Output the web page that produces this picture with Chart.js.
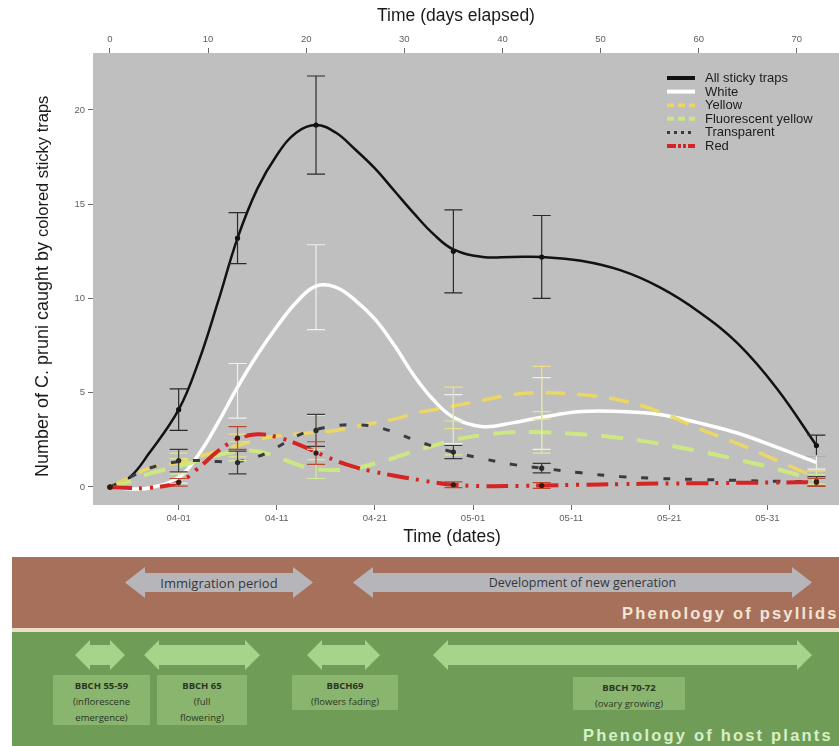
<!DOCTYPE html>
<html>
<head>
<meta charset="utf-8">
<script src="https://cdn.jsdelivr.net/npm/chart.js@4"></script>
<style>
  html, body { margin: 0; padding: 0; background: #fff; }
  #wrap { position: relative; width: 839px; height: 746px; overflow: hidden;
          font-family: "Liberation Sans", Arial, sans-serif; }
  #plot { position: absolute; left: 0; top: 0; }
  .band { position: absolute; left: 12px; right: 0; }
  #psy  { top: 557px; height: 71px; background: #a6705b; }
  #sep  { top: 628px; height: 4px; background: #eedcc6; }
  #host { top: 632px; height: 114px; background: #6f9d57; }
  .arrow { position: absolute;
           clip-path: polygon(0 50%, var(--h) 0, var(--h) var(--s), calc(100% - var(--h)) var(--s),
                              calc(100% - var(--h)) 0, 100% 50%, calc(100% - var(--h)) 100%,
                              calc(100% - var(--h)) calc(100% - var(--s)), var(--h) calc(100% - var(--s)), var(--h) 100%); }
  .grey  { background: #b6b6ba; --h: 20px; --s: 6px; }
  .green { background: #a6d48a; --h: 15px; --s: 5px; }
  .atext { position: absolute; display: flex; align-items: center; justify-content: center;
           font-family: "Open Sans", sans-serif; color: #36363a; white-space: nowrap; }
  .stage { position: absolute; background: rgba(160,200,130,0.55); color: #2a3623;
           font-family: "Open Sans", sans-serif; font-size: 9.5px; line-height: 16px;
           text-align: center; padding-top: 3px; box-sizing: border-box; }
  .stage b { font-weight: 700; }
  .phen { position: absolute; font-family: "Liberation Sans", Arial, sans-serif; font-weight: 700;
          font-size: 16.5px; line-height: 18px; letter-spacing: 2.2px; white-space: nowrap; }
</style>
</head>
<body>
<div id="wrap">
  <canvas id="plot" width="839" height="550"></canvas>

  <div class="band" id="psy"></div>
  <div class="band" id="sep"></div>
  <div class="band" id="host"></div>

  <div class="arrow grey" style="left:125px;top:567px;width:188px;height:31px;"></div>
  <div class="atext" style="left:125px;top:567px;width:188px;height:31px;font-size:13px;">Immigration period</div>
  <div class="arrow grey" style="left:353px;top:567px;width:459px;height:31px;"></div>
  <div class="atext" style="left:353px;top:567px;width:459px;height:31px;font-size:12.5px;">Development of new generation</div>
  <div class="phen" style="left:622px;top:604px;color:#f4e4d6;">Phenology of psyllids</div>

  <div class="arrow green" style="left:75px;top:640px;width:50px;height:30px;"></div>
  <div class="arrow green" style="left:144px;top:640px;width:116px;height:30px;"></div>
  <div class="arrow green" style="left:307px;top:640px;width:73px;height:30px;"></div>
  <div class="arrow green" style="left:433px;top:640px;width:379px;height:30px;"></div>

  <div class="stage" style="left:53px;top:675px;width:97px;height:50px;"><b>BBCH 55-59</b><br>(inflorescene<br>emergence)</div>
  <div class="stage" style="left:157px;top:675px;width:90px;height:50px;"><b>BBCH 65</b><br>(full<br>flowering)</div>
  <div class="stage" style="left:292px;top:675px;width:106px;height:35px;"><b>BBCH69</b><br>(flowers fading)</div>
  <div class="stage" style="left:573px;top:677px;width:112px;height:33px;"><b>BBCH 70-72</b><br>(ovary growing)</div>
  <div class="phen" style="left:583px;top:726px;color:#d8efc6;">Phenology of host plants</div>
</div>

<script>
// Fitted trend lines (number of C. pruni per trap), read at these days
const curveDays   = [0, 2, 4, 7, 9, 11, 13, 15, 17, 19, 21, 23, 25, 27, 29, 31, 33, 35, 38, 41, 44, 48, 52, 56, 60, 64, 68, 72];
const allCurve    = [0, 0.5, 1.8, 4.1, 6.6, 9.8, 13.2, 15.8, 17.6, 18.8, 19.2, 18.8, 17.9, 16.9, 15.7, 14.5, 13.4, 12.6, 12.2, 12.2, 12.2, 12.0, 11.5, 10.6, 9.3, 7.6, 5.2, 2.2];
const whiteCurve  = [0, -0.1, -0.05, 0.5, 1.7, 3.4, 5.3, 7.0, 8.5, 9.8, 10.65, 10.6, 9.9, 8.9, 7.5, 5.9, 4.6, 3.7, 3.2, 3.4, 3.7, 4.0, 4.0, 3.85, 3.4, 2.85, 2.1, 1.3];
const yellowCurve = [0, 0.5, 1.0, 1.3, 1.6, 1.9, 2.2, 2.5, 2.7, 2.8, 2.9, 3.0, 3.2, 3.4, 3.6, 3.9, 4.1, 4.3, 4.6, 4.9, 5.0, 4.9, 4.6, 4.0, 3.1, 2.3, 1.4, 0.5];
const fluorCurve  = [0, 0.3, 0.7, 1.1, 1.4, 1.7, 1.9, 1.9, 1.6, 1.2, 0.95, 0.9, 1.0, 1.25, 1.55, 1.9, 2.2, 2.5, 2.75, 2.9, 2.9, 2.8, 2.6, 2.3, 1.9, 1.45, 0.95, 0.35];
const transCurve  = [0, 0.5, 1.0, 1.35, 1.4, 1.35, 1.35, 1.6, 2.1, 2.7, 3.05, 3.25, 3.3, 3.2, 2.9, 2.5, 2.15, 1.85, 1.5, 1.2, 1.0, 0.75, 0.55, 0.45, 0.4, 0.35, 0.3, 0.3];
const redCurve    = [0, -0.05, -0.05, 0.25, 1.0, 1.9, 2.55, 2.8, 2.65, 2.3, 1.85, 1.4, 1.05, 0.8, 0.6, 0.42, 0.25, 0.12, 0.05, 0.05, 0.08, 0.12, 0.15, 0.18, 0.2, 0.22, 0.24, 0.25];

// Trap counts on sampling days: mean and standard error
const sampleDays  = [0, 7, 13, 21, 35, 44, 72];
const allMean     = [0, 4.1, 13.2, 19.2, 12.5, 12.2, 2.2];
const allSE       = [0, 1.1, 1.35, 2.6, 2.2, 2.2, 0.55];
const whiteMean   = [0, 0.5, 5.1, 10.6, 3.6, 3.9, 1.3];
const whiteSE     = [0, 0.3, 1.45, 2.25, 1.3, 1.9, 0.35];
const yellowMean  = [0, 1.3, 2.2, 2.9, 4.2, 5.0, 0.5];
const yellowSE    = [0, 0.5, 0.6, 0.9, 1.1, 1.4, 0.35];
const fluorMean   = [0, 1.1, 1.9, 0.95, 2.6, 2.9, 0.35];
const fluorSE     = [0, 0.4, 0.5, 0.5, 0.9, 1.1, 0.3];
const transMean   = [0, 1.4, 1.3, 3.0, 1.85, 1.0, 0.3];
const transSE     = [0, 0.6, 0.6, 0.85, 0.35, 0.25, 0.25];
const redMean     = [0, 0.25, 2.6, 1.8, 0.12, 0.08, 0.25];
const redSE       = [0, 0.2, 0.6, 0.6, 0.15, 0.15, 0.2];

// Axis ticks
const dayTicks       = [0, 10, 20, 30, 40, 50, 60, 70];
const dateTickDays   = [7, 17, 27, 37, 47, 57, 67];
const dateTickLabels = ['04-01', '04-11', '04-21', '05-01', '05-11', '05-21', '05-31'];
const countTicks     = [0, 5, 10, 15, 20];

const FONT = '"Liberation Sans", Arial, sans-serif';
Chart.defaults.font.family = FONT;

function series(label, curve, mean, se, style) {
  return {
    label,
    data: curveDays.map((d, i) => ({ x: d, y: curve[i] })),
    borderColor: style.color,
    borderWidth: style.width,
    borderDash: style.dash || [],
    borderCapStyle: 'butt',
    pointRadius: 0,
    tension: 0.4,
    fill: false,
    order: style.order,
    errMean: mean, errSE: se, errColor: style.errColor, dotColor: style.dotColor,
    keyDash: style.keyDash || style.dash || [], keyWidth: style.keyWidth || style.width
  };
}

const datasets = [
  series('All sticky traps', allCurve, allMean, allSE,
    { color: '#121212', width: 2.5, order: 6, errColor: '#2a2a2a', dotColor: '#111', keyWidth: 4 }),
  series('White', whiteCurve, whiteMean, whiteSE,
    { color: '#ffffff', width: 3.5, order: 5, errColor: 'rgba(245,245,245,0.9)', keyWidth: 4 }),
  series('Yellow', yellowCurve, yellowMean, yellowSE,
    { color: 'rgba(236,216,96,0.95)', width: 3.5, dash: [20, 12], order: 4, errColor: 'rgba(240,226,130,0.95)', keyDash: [7, 4] }),
  series('Fluorescent yellow', fluorCurve, fluorMean, fluorSE,
    { color: 'rgba(206,234,128,0.95)', width: 4, dash: [22, 14], order: 3, errColor: 'rgba(214,238,150,0.95)', keyDash: [7, 4] }),
  series('Transparent', transCurve, transMean, transSE,
    { color: '#3a3a44', width: 3, dash: [7, 15], order: 2, errColor: '#3a3a3a', dotColor: '#2a2a2a', keyDash: [3, 4] }),
  series('Red', redCurve, redMean, redSE,
    { color: '#d42424', width: 4, dash: [22, 7, 3, 8, 3, 7], order: 1, errColor: '#b84a30', dotColor: '#3a1a10', keyDash: [9, 2, 3, 2, 3, 2] })
];

// Grey panel behind the data
const panel = {
  id: 'panel',
  beforeDraw(chart) {
    const { ctx, chartArea: a } = chart;
    ctx.save();
    ctx.fillStyle = '#bfbfbf';
    ctx.fillRect(a.left, a.top, a.right - a.left, a.bottom - a.top);
    ctx.restore();
  }
};

// Mean +/- SE bars on sampling days
const errorBars = {
  id: 'errorBars',
  afterDatasetsDraw(chart) {
    const { ctx, scales: { x, y } } = chart;
    ctx.save();
    chart.data.datasets.forEach(ds => {
      ctx.strokeStyle = ds.errColor;
      ctx.lineWidth = 1.2;
      sampleDays.forEach((d, i) => {
        const px = x.getPixelForValue(d);
        const m = ds.errMean[i], s = ds.errSE[i];
        if (s > 0) {
          const t = y.getPixelForValue(m + s), b = y.getPixelForValue(m - s);
          ctx.beginPath();
          ctx.moveTo(px, t); ctx.lineTo(px, b);
          ctx.moveTo(px - 9, t); ctx.lineTo(px + 9, t);
          ctx.moveTo(px - 9, b); ctx.lineTo(px + 9, b);
          ctx.stroke();
        }
        if (ds.dotColor) {
          ctx.fillStyle = ds.dotColor;
          ctx.beginPath();
          ctx.arc(px, y.getPixelForValue(m), 2.6, 0, Math.PI * 2);
          ctx.fill();
        }
      });
    });
    ctx.restore();
  }
};

// Legend inside the panel, top right
const keyLegend = {
  id: 'keyLegend',
  afterDraw(chart) {
    const { ctx, chartArea: a } = chart;
    const x0 = a.right - 172, y0 = a.top + 25, step = 13.6;
    ctx.save();
    ctx.font = '13px ' + FONT;
    ctx.textBaseline = 'middle';
    chart.data.datasets.forEach((ds, i) => {
      const yy = y0 + i * step;
      ctx.strokeStyle = ds.borderColor;
      ctx.lineWidth = ds.keyWidth;
      ctx.setLineDash(ds.keyDash);
      ctx.beginPath(); ctx.moveTo(x0, yy); ctx.lineTo(x0 + 28, yy); ctx.stroke();
      ctx.setLineDash([]);
      ctx.fillStyle = '#1c1c1c';
      ctx.fillText(ds.label, x0 + 38, yy + 0.5);
    });
    ctx.restore();
  }
};

// Axis titles
const axisTitles = {
  id: 'axisTitles',
  afterDraw(chart) {
    const { ctx } = chart;
    ctx.save();
    ctx.fillStyle = '#1a1a1a';
    ctx.textBaseline = 'middle';
    ctx.textAlign = 'center';
    ctx.font = '17.5px ' + FONT;
    ctx.fillText('Time (days elapsed)', 456, 16);
    ctx.fillText('Time (dates)', 452, 537);
    ctx.translate(43, 477);
    ctx.rotate(-Math.PI / 2);
    ctx.textAlign = 'left';
    const p1 = 'Number of C. pruni caught by ';
    ctx.font = '18px ' + FONT;
    ctx.fillText(p1, 0, 0);
    const w1 = ctx.measureText(p1).width;
    ctx.font = '16.5px ' + FONT;
    ctx.fillText('colored sticky traps', w1, 0);
    ctx.restore();
  }
};

const tickFont = { size: 9.5, family: FONT };
const tickGrid = { drawOnChartArea: false, tickLength: 5, color: '#6a6a6a', lineWidth: 1 };

new Chart(document.getElementById('plot'), {
  type: 'line',
  data: { datasets },
  plugins: [panel, errorBars, keyLegend, axisTitles],
  options: {
    responsive: false,
    animation: false,
    devicePixelRatio: 1,
    layout: { padding: 0 },
    plugins: { legend: { display: false }, tooltip: { enabled: false } },
    scales: {
      x: {
        type: 'linear', position: 'bottom', min: -1.73, max: 74.3,
        afterBuildTicks: s => { s.ticks = dateTickDays.map(v => ({ value: v })); },
        afterFit: s => { s.height = 45; },
        ticks: { font: tickFont, color: '#606060', padding: 3, maxRotation: 0, autoSkip: false,
                 callback: v => dateTickLabels[dateTickDays.indexOf(v)] },
        grid: tickGrid, border: { display: false }
      },
      xTop: {
        type: 'linear', position: 'top', min: -1.73, max: 74.3,
        afterBuildTicks: s => { s.ticks = dayTicks.map(v => ({ value: v })); },
        afterFit: s => { s.height = 53; },
        ticks: { font: tickFont, color: '#606060', padding: 3, maxRotation: 0, autoSkip: false },
        grid: tickGrid, border: { display: false }
      },
      y: {
        type: 'linear', position: 'left', min: -0.955, max: 23.02,
        afterBuildTicks: s => { s.ticks = countTicks.map(v => ({ value: v })); },
        afterFit: s => { s.width = 93; },
        ticks: { font: tickFont, color: '#606060', padding: 3 },
        grid: tickGrid, border: { display: false }
      }
    }
  }
});
</script>
</body>
</html>
